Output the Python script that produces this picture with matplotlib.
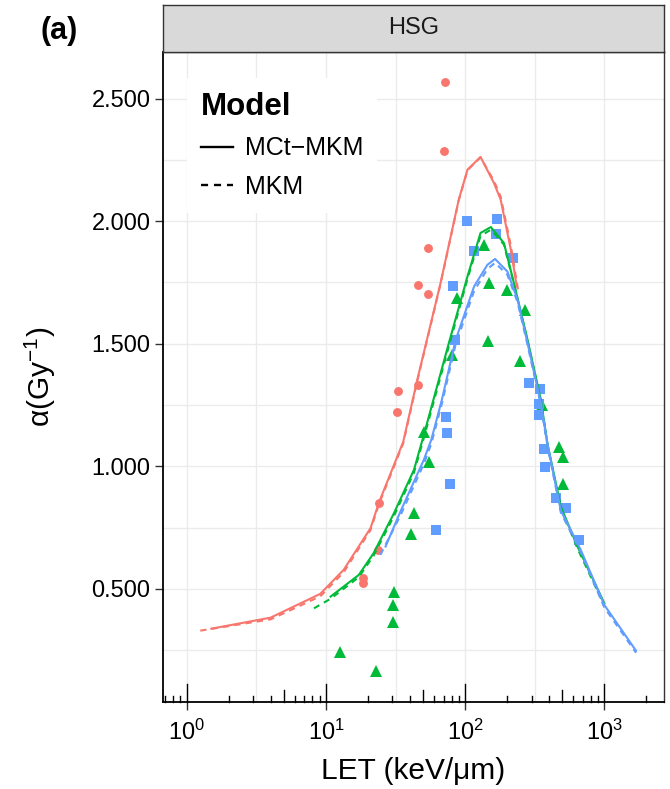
import matplotlib
matplotlib.use('Agg')
import matplotlib.pyplot as plt
from matplotlib import ticker, transforms
from matplotlib.lines import Line2D

plt.rcParams['font.family'] = ['Liberation Sans', 'DejaVu Sans']
plt.rcParams['mathtext.fontset'] = 'custom'
plt.rcParams['mathtext.rm'] = 'Liberation Sans'
plt.rcParams['mathtext.default'] = 'regular'

RED, GREEN, BLUE = '#F8766D', '#00BA38', '#619CFF'

# measured alpha values (points)
red_let = [18.5, 18.6, 23.6, 24, 32.5, 33, 46, 46, 54, 54, 70.4, 71.3]
red_alpha = [0.544, 0.523, 0.659, 0.852, 1.221, 1.309, 1.330, 1.740, 1.705, 1.891, 2.285, 2.567]

green_let = [12.7, 22.7, 30.1, 30.4, 30.7, 40.5, 42.8, 50.5, 54.9, 80.9, 87.9,
             136.6, 146, 148, 201, 247, 269, 356, 469, 501, 509]
green_alpha = [0.242, 0.167, 0.435, 0.364, 0.489, 0.723, 0.811, 1.142, 1.016, 1.455, 1.686,
               1.904, 1.512, 1.748, 1.718, 1.428, 1.639, 1.251, 1.081, 1.040, 0.929]

blue_let = [62, 72.4, 74.5, 77.3, 82, 84.5, 103, 116, 166, 169, 219,
            288, 340, 340, 346, 369, 374, 448, 529, 653]
blue_alpha = [0.740, 1.201, 1.135, 0.927, 1.734, 1.516, 2.000, 1.880, 1.948, 2.010, 1.850,
              1.340, 1.255, 1.210, 1.315, 1.070, 0.999, 0.870, 0.829, 0.700]

# model curves: MCt-MKM (solid) and MKM (dashed)
red_mct_let = [1.5, 4.0, 9.1, 13.4, 20.9, 24, 35.9, 45.3, 66.6, 90, 104, 129, 161, 180, 213, 235]
red_mct = [0.338, 0.383, 0.480, 0.578, 0.748, 0.852, 1.100, 1.353, 1.748, 2.088, 2.210, 2.262,
           2.156, 2.088, 1.884, 1.734]
red_mkm_let = [1.25, 4.0, 9.1, 13.4, 20.9, 24, 35.9, 45.3, 66.6, 90, 104, 129, 161, 180, 213, 240]
red_mkm = [0.330, 0.376, 0.470, 0.568, 0.740, 0.845, 1.094, 1.348, 1.745, 2.085, 2.208, 2.260,
           2.165, 2.100, 1.900, 1.720]

green_mct_let = [10.8, 17.2, 22, 30.8, 42.9, 50.6, 76.4, 104, 129, 153, 190, 224, 281, 350,
                 391, 487, 642, 1000]
green_mct = [0.469, 0.557, 0.646, 0.809, 0.986, 1.130, 1.503, 1.775, 1.952, 1.976, 1.911, 1.748,
             1.516, 1.271, 1.090, 0.836, 0.673, 0.442]
green_mkm_let = [8.2, 10.8, 17.2, 22, 30.8, 42.9, 50.6, 76.4, 104, 129, 153, 190, 224, 281, 350,
                 391, 487, 642, 1000]
green_mkm = [0.421, 0.460, 0.548, 0.636, 0.798, 0.975, 1.118, 1.490, 1.765, 1.940, 1.965, 1.905,
             1.745, 1.512, 1.268, 1.086, 0.830, 0.665, 0.432]

blue_mct_let = [26.8, 34.3, 50.5, 57.1, 68, 85.5, 116, 144.5, 164, 201, 238, 281, 350, 391, 487,
                678, 1000, 1690]
blue_mct = [0.673, 0.816, 1.027, 1.108, 1.271, 1.516, 1.734, 1.822, 1.846, 1.795, 1.680, 1.503,
            1.258, 1.090, 0.820, 0.659, 0.435, 0.248]
blue_mkm_let = [24.6, 34.3, 50.5, 57.1, 68, 85.5, 116, 144.5, 164, 201, 238, 281, 350, 391, 487,
                678, 1000, 1690]
blue_mkm = [0.639, 0.800, 1.010, 1.092, 1.255, 1.498, 1.715, 1.805, 1.830, 1.782, 1.670, 1.495,
            1.250, 1.082, 0.812, 0.650, 0.425, 0.240]

y_ticks = [0.5, 1.0, 1.5, 2.0, 2.5]
x_ticks = [1, 10, 100, 1000]

fig = plt.figure(figsize=(6.7, 7.89), dpi=100)
W, H = 670, 789
L, R, B, T = 163 / W, 664 / W, 1 - 702 / H, 1 - 52 / H
ax = fig.add_axes([L, B, R - L, T - B])

# points
ax.plot(red_let, red_alpha, 'o', ms=6.4, color=RED, mew=0, zorder=2)
ax.plot(green_let, green_alpha, '^', ms=9.0, color=GREEN, mew=0, zorder=2)
ax.plot(blue_let, blue_alpha, 's', ms=6.6, color=BLUE, mew=0, zorder=2)

# model lines
dash = (0, (3, 2.5))
for c, xs, ys, xd, yd in [(RED, red_mct_let, red_mct, red_mkm_let, red_mkm),
                          (GREEN, green_mct_let, green_mct, green_mkm_let, green_mkm),
                          (BLUE, blue_mct_let, blue_mct, blue_mkm_let, blue_mkm)]:
    ax.plot(xd, yd, color=c, lw=1.5, ls=dash, zorder=3)
    ax.plot(xs, ys, color=c, lw=1.5, ls='-', zorder=3)

ax.set_xscale('log')
ax.set_xlim(10 ** -0.171, 10 ** 3.429)
ax.set_ylim(0.039, 2.69)

ax.xaxis.set_major_locator(ticker.FixedLocator(x_ticks))
ax.xaxis.set_major_formatter(ticker.LogFormatterMathtext())
ax.xaxis.set_minor_locator(ticker.FixedLocator([10 ** 0.5, 10 ** 1.5, 10 ** 2.5]))
ax.xaxis.set_minor_formatter(ticker.NullFormatter())
ax.yaxis.set_major_locator(ticker.FixedLocator(y_ticks))
ax.yaxis.set_major_formatter(ticker.FormatStrFormatter('%.3f'))
ax.yaxis.set_minor_locator(ticker.MultipleLocator(0.25))

ax.tick_params(which='major', direction='out', length=5.5, width=1, labelsize=17,
               color='#333333', labelcolor='black')
ax.tick_params(axis='x', which='major', pad=7)
ax.tick_params(which='minor', length=0)
ax.grid(which='both', color='#EBEBEB', lw=1.0)
ax.set_axisbelow(True)

for s in ax.spines.values():
    s.set_color('#333333')
    s.set_linewidth(1.0)
ax.spines['left'].set_color('black')
ax.spines['bottom'].set_color('black')
ax.spines['left'].set_linewidth(1.3)
ax.spines['bottom'].set_linewidth(1.3)

# log ticks along the bottom (annotation_logticks style)
trans = transforms.blended_transform_factory(ax.transData, ax.transAxes)
lo, hi = ax.get_xlim()
for k in range(-1, 4):
    for m in range(1, 10):
        v = m * 10 ** k
        if lo < v < hi:
            h = 0.027 if m == 1 else (0.0185 if m == 5 else 0.0095)
            ax.plot([v, v], [0, h], transform=trans, color='black', lw=1.0,
                    clip_on=False, zorder=4)

ax.set_xlabel('LET (keV/μm)', fontsize=21.5, labelpad=9)
ax.set_ylabel('α(Gy$^{-1}$)', fontsize=21.5, labelpad=24)

handles = [Line2D([], [], color='black', lw=1.7, ls='-'),
           Line2D([], [], color='black', lw=1.7, ls=dash)]
leg = ax.legend(handles, ['MCt−MKM', 'MKM'], title='Model', loc='upper left',
                bbox_to_anchor=(0.048, 0.96), fontsize=18,
                title_fontproperties={'weight': 'bold', 'size': 22.5},
                frameon=True, fancybox=False, framealpha=1, facecolor='white',
                edgecolor='white', handlelength=1.3, handletextpad=0.45,
                labelspacing=0.58, borderpad=0.55, borderaxespad=0, alignment='left')
leg.get_frame().set_linewidth(0)

# facet strip
strip = fig.add_axes([L, 1 - 52 / H, R - L, 47 / H])
strip.set_facecolor('#D9D9D9')
strip.set_xticks([])
strip.set_yticks([])
for s in strip.spines.values():
    s.set_color('#333333')
    s.set_linewidth(1.0)
strip.text(0.5, 0.5, 'HSG', ha='center', va='center', fontsize=17, color='#1A1A1A')

fig.text(40 / W, 1 - 31 / H, '(a)', fontsize=22, fontweight='bold', va='center')

fig.savefig('out.png', dpi=100)
